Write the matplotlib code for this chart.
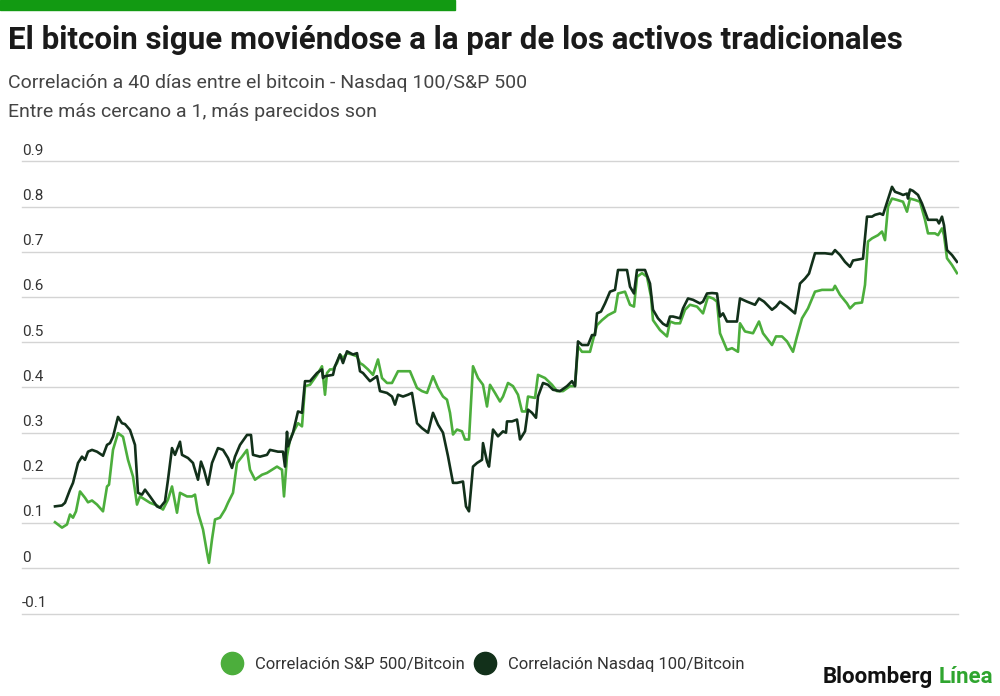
import matplotlib
matplotlib.use("Agg")
import matplotlib.pyplot as plt
from matplotlib.lines import Line2D

plt.rcParams['font.family'] = ['Roboto', 'DejaVu Sans']

# --- datos (t = dia relativo) ---
sp_t = [0, 7, 12, 15, 18, 21, 25, 30, 33, 37,
        42, 48, 52, 54, 58, 63, 68, 73, 78, 82,
        85, 90, 95, 102, 108, 113, 117, 122, 125, 132,
        137, 140, 143, 148, 152, 154, 157, 160, 165, 170,
        173, 178, 182, 187, 192, 195, 200, 207, 212, 217,
        222, 227, 229, 232, 235, 238, 243, 247, 250, 255,
        262, 267, 270, 272, 275, 278, 282, 285, 288, 292,
        297, 302, 305, 308, 313, 318, 323, 327, 332, 337,
        343, 348, 355, 362, 367, 372, 378, 383, 388, 392,
        395, 398, 402, 407, 410, 414, 418, 423, 428, 432,
        435, 440, 445, 448, 453, 458, 463, 467, 471, 473,
        480, 483, 490, 497, 502, 508, 515, 520, 523, 527,
        535, 538, 542, 547, 553, 560, 563, 570, 575, 579,
        582, 587, 592, 596, 598, 605, 612, 615, 620, 625,
        630, 635, 642, 648, 653, 658, 662, 665, 672, 677,
        683, 685, 690, 698, 704, 708, 717, 721, 727, 732,
        738, 742, 747, 753, 760, 767, 773, 778, 780, 785,
        792, 795, 800, 807, 810, 813, 817, 823, 827, 830,
        833, 837, 842, 848, 852, 855, 860, 865, 870, 873,
        880, 883, 887, 889, 892, 897, 902]
sp_v = [0.102, 0.090, 0.097, 0.119, 0.112, 0.126, 0.170, 0.156, 0.146, 0.150,
        0.141, 0.126, 0.181, 0.185, 0.262, 0.299, 0.291, 0.240, 0.203, 0.141,
        0.159, 0.152, 0.145, 0.139, 0.130, 0.152, 0.181, 0.123, 0.167, 0.159,
        0.159, 0.163, 0.123, 0.086, 0.035, 0.012, 0.064, 0.108, 0.112, 0.130,
        0.145, 0.167, 0.233, 0.247, 0.262, 0.218, 0.196, 0.207, 0.211, 0.218,
        0.225, 0.218, 0.159, 0.248, 0.285, 0.300, 0.321, 0.314, 0.403, 0.406,
        0.428, 0.447, 0.384, 0.432, 0.440, 0.440, 0.454, 0.473, 0.465, 0.476,
        0.473, 0.469, 0.454, 0.450, 0.440, 0.428, 0.462, 0.421, 0.410, 0.410,
        0.436, 0.436, 0.436, 0.399, 0.392, 0.388, 0.425, 0.399, 0.380, 0.373,
        0.344, 0.296, 0.307, 0.303, 0.285, 0.285, 0.447, 0.421, 0.406, 0.358,
        0.406, 0.388, 0.369, 0.380, 0.410, 0.403, 0.384, 0.347, 0.347, 0.380,
        0.377, 0.428, 0.421, 0.406, 0.392, 0.392, 0.403, 0.403, 0.491, 0.479,
        0.479, 0.505, 0.538, 0.549, 0.560, 0.568, 0.608, 0.612, 0.583, 0.579,
        0.645, 0.653, 0.645, 0.601, 0.549, 0.527, 0.513, 0.546, 0.542, 0.542,
        0.572, 0.583, 0.579, 0.564, 0.601, 0.597, 0.590, 0.520, 0.483, 0.487,
        0.479, 0.542, 0.524, 0.520, 0.546, 0.520, 0.494, 0.513, 0.513, 0.502,
        0.479, 0.513, 0.553, 0.575, 0.612, 0.616, 0.616, 0.616, 0.625, 0.605,
        0.586, 0.575, 0.586, 0.588, 0.627, 0.723, 0.730, 0.737, 0.745, 0.726,
        0.800, 0.818, 0.815, 0.811, 0.789, 0.818, 0.815, 0.811, 0.771, 0.741,
        0.741, 0.737, 0.752, 0.737, 0.686, 0.671, 0.653]

nq_t = [0, 7, 10, 15, 18, 23, 27, 30, 33, 37,
        42, 48, 52, 55, 58, 63, 67, 70, 75, 80,
        83, 87, 90, 95, 102, 105, 110, 113, 117, 120,
        125, 127, 133, 138, 139, 143, 146, 149, 153, 157,
        163, 168, 173, 177, 180, 185, 192, 196, 198, 205,
        212, 215, 223, 228, 230, 232, 233, 238, 243, 247,
        250, 255, 262, 267, 268, 270, 278, 280, 285, 288,
        292, 298, 302, 305, 308, 315, 322, 325, 332, 337,
        340, 343, 348, 353, 357, 362, 367, 373, 378, 383,
        388, 393, 398, 402, 408, 411, 414, 418, 422, 427,
        428, 432, 434, 438, 443, 448, 451, 452, 457, 462,
        465, 470, 473, 477, 481, 483, 488, 493, 498, 505,
        512, 517, 520, 523, 527, 533, 537, 540, 542, 546,
        550, 555, 560, 563, 572, 575, 579, 582, 590, 595,
        598, 603, 608, 612, 615, 618, 625, 628, 633, 638,
        645, 648, 652, 657, 662, 665, 668, 672, 682, 685,
        692, 700, 704, 709, 717, 721, 725, 732, 740, 745,
        750, 754, 760, 770, 777, 780, 785, 790, 795, 798,
        808, 812, 817, 820, 825, 828, 837, 840, 845, 848,
        852, 853, 855, 858, 863, 867, 873, 882, 884, 887,
        889, 892, 897, 902]
nq_v = [0.137, 0.139, 0.145, 0.174, 0.189, 0.233, 0.247, 0.240, 0.258, 0.262,
        0.258, 0.249, 0.273, 0.277, 0.291, 0.335, 0.321, 0.319, 0.306, 0.273,
        0.167, 0.163, 0.174, 0.159, 0.137, 0.134, 0.148, 0.196, 0.266, 0.251,
        0.280, 0.251, 0.244, 0.233, 0.225, 0.196, 0.236, 0.218, 0.185, 0.233,
        0.266, 0.262, 0.244, 0.222, 0.247, 0.273, 0.295, 0.295, 0.251, 0.247,
        0.251, 0.262, 0.258, 0.258, 0.225, 0.302, 0.270, 0.300, 0.347, 0.344,
        0.414, 0.414, 0.432, 0.440, 0.421, 0.425, 0.428, 0.447, 0.473, 0.454,
        0.480, 0.473, 0.476, 0.436, 0.432, 0.414, 0.425, 0.392, 0.388, 0.380,
        0.362, 0.384, 0.380, 0.384, 0.388, 0.321, 0.310, 0.300, 0.344, 0.318,
        0.300, 0.248, 0.189, 0.189, 0.192, 0.137, 0.126, 0.225, 0.233, 0.240,
        0.277, 0.236, 0.225, 0.307, 0.292, 0.303, 0.300, 0.325, 0.325, 0.329,
        0.285, 0.303, 0.351, 0.344, 0.333, 0.380, 0.410, 0.406, 0.395, 0.392,
        0.403, 0.414, 0.403, 0.502, 0.494, 0.494, 0.516, 0.516, 0.564, 0.568,
        0.586, 0.612, 0.616, 0.660, 0.660, 0.623, 0.608, 0.660, 0.660, 0.630,
        0.572, 0.553, 0.541, 0.536, 0.557, 0.557, 0.553, 0.575, 0.597, 0.594,
        0.586, 0.590, 0.608, 0.609, 0.608, 0.557, 0.564, 0.546, 0.546, 0.597,
        0.590, 0.583, 0.597, 0.590, 0.572, 0.579, 0.590, 0.579, 0.564, 0.630,
        0.641, 0.652, 0.697, 0.697, 0.695, 0.704, 0.693, 0.678, 0.667, 0.681,
        0.685, 0.778, 0.778, 0.782, 0.785, 0.782, 0.844, 0.833, 0.829, 0.826,
        0.829, 0.818, 0.838, 0.835, 0.826, 0.807, 0.771, 0.771, 0.763, 0.778,
        0.759, 0.704, 0.693, 0.678]

y_ticks = [0.9, 0.8, 0.7, 0.6, 0.5, 0.4, 0.3, 0.2, 0.1, 0, -0.1]
y_labels = ['0.9', '0.8', '0.7', '0.6', '0.5', '0.4', '0.3', '0.2', '0.1', '0', '-0.1']

verde = '#4cae3c'
oscuro = '#12301a'

fig = plt.figure(figsize=(10, 6.96), dpi=100)

# barra verde superior
fig.patches.append(plt.Rectangle((0, 1 - 10 / 696), 0.455, 10 / 696,
                                 transform=fig.transFigure, color='#129a12'))

fig.text(0.008, 1 - 40 / 696, 'El bitcoin sigue moviéndose a la par de los activos tradicionales',
         fontsize=22.5, fontweight='bold', color='#1a1a1a', va='center')
fig.text(0.008, 1 - 83 / 696, 'Correlación a 40 días entre el bitcoin - Nasdaq 100/S&P 500',
         fontsize=14, color='#444444', va='center')
fig.text(0.008, 1 - 112 / 696, 'Entre más cercano a 1, más parecidos son',
         fontsize=14, color='#444444', va='center')

ax = fig.add_axes([0.022, 1 - 613.5 / 696, 0.936, 452 / 696])
ax.plot(sp_t, sp_v, color=verde, lw=1.9, zorder=3)
ax.plot(nq_t, nq_v, color=oscuro, lw=1.9, zorder=4)

ax.set_xlim(-33, 903)
ax.set_ylim(-0.1, 0.9)
for v in y_ticks:
    ax.axhline(v, color='#d4d4d4', lw=1, zorder=1, clip_on=False)
for v, lab in zip(y_ticks, y_labels):
    ax.text(0.0, v + 0.008, lab, transform=ax.get_yaxis_transform(),
            fontsize=11, color='#333333', va='bottom', ha='left')
ax.set_xticks([])
ax.set_yticks([])
for s in ax.spines.values():
    s.set_visible(False)

# leyenda
handles = [Line2D([], [], marker='o', ls='', markersize=16, color=verde),
           Line2D([], [], marker='o', ls='', markersize=16, color=oscuro)]
fig.legend(handles, ['Correlación S&P 500/Bitcoin', 'Correlación Nasdaq 100/Bitcoin'],
           loc='center left', bbox_to_anchor=(0.2, 1 - 664 / 696), ncol=2, frameon=False,
           fontsize=12, handletextpad=0.4, columnspacing=0.2, labelcolor='#333333')

t1 = fig.text(0.823, 1 - 677 / 696, 'Bloomberg', fontsize=16, fontweight='bold',
              color='#111111', va='center')
fig.canvas.draw()
bb = t1.get_window_extent()
fig.text(bb.x1 / 1000 + 0.005, 1 - 677 / 696, 'Línea', fontsize=16, fontweight='bold',
         color='#2fa52f', va='center')

fig.savefig('out.png', dpi=100)
